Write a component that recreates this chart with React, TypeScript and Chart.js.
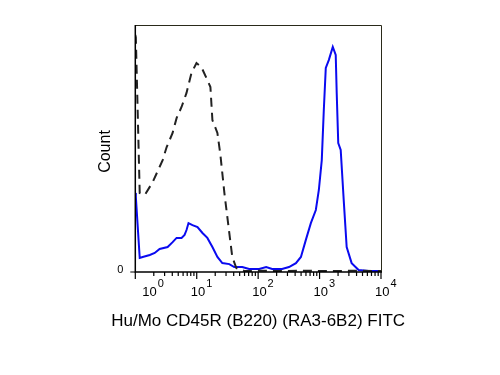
import React, { useEffect, useRef } from "react";
import { Chart, registerables } from "chart.js";

Chart.register(...registerables);

// Isotype control (dashed black): fluorescence (x) and relative count (y, 0-100)
const controlX = [1.0, 1.02, 1.18, 1.43, 1.92, 2.79, 3.24, 4.05, 4.7, 5.66, 6.82, 8.22, 9.91, 11.9, 14.9, 16.7, 18.0, 21.7, 24.3, 28.2, 33.9, 37.9, 44.1, 59.3, 104, 250, 600, 1500, 4000, 10000];
const controlY = [96, 95, 32.0, 31.2, 36.4, 45.3, 50.6, 56.3, 62.3, 66.8, 72.5, 80.6, 84.6, 83.0, 77.7, 74.9, 61.5, 56.3, 47.4, 32.0, 15.8, 6.1, 1.6, 0.4, 0.5, 0.4, 0.5, 0.4, 0.5, 0.4];

// Stained sample (solid blue)
const stainedX = [1.0, 1.02, 1.18, 1.32, 1.72, 2.07, 2.49, 3.36, 4.05, 4.7, 5.66, 6.34, 6.82, 7.35, 8.53, 10.3, 12.4, 14.9, 18.0, 21.7, 26.1, 33.9, 40.8, 55.1, 71.4, 104, 135, 169, 245, 318, 412, 497, 598, 721, 869, 973, 1086, 1172, 1262, 1413, 1641, 1832, 1901, 2014, 2208, 2472, 2761, 3327, 4325, 6281, 9120, 10000];
const stainedY = [32, 30.4, 5.7, 6.1, 6.9, 7.7, 9.3, 10.1, 12.1, 13.8, 13.8, 15.0, 17.0, 19.8, 19.0, 18.2, 15.8, 13.8, 10.1, 6.1, 3.6, 3.2, 2.0, 2.0, 1.2, 1.2, 2.0, 1.2, 1.2, 2.0, 3.6, 6.1, 13.0, 19.8, 25.1, 33.2, 45.3, 65.6, 82.6, 85.8, 91.1, 87.9, 72.5, 52.2, 49.4, 29.1, 10.1, 3.6, 0.8, 0.4, 0.4, 0.4];

const decadeValues = [1, 10, 100, 1000, 10000];
const decadeExponents = ["0", "1", "2", "3", "4"];
const minorMultipliers = [2, 3, 4, 5, 6, 7, 8, 9];
const yTickValues = [0];
const yTickLabels = ["0"];

const xTitle = "Hu/Mo CD45R (B220) (RA3-6B2) FITC";
const yTitle = "Count";

const FONT = "'Liberation Sans', Arial, sans-serif";

const axesPlugin = {
  id: "flowAxes",
  afterDraw(chart: any) {
    const { ctx, chartArea } = chart;
    const xs = chart.scales.x;
    const ys = chart.scales.y;
    const { left, right, top, bottom } = chartArea;
    ctx.save();

    // frame top & right
    ctx.strokeStyle = "#2a2a1a";
    ctx.lineWidth = 1;
    ctx.beginPath();
    ctx.moveTo(left, top + 0.5);
    ctx.lineTo(right + 0.5, top + 0.5);
    ctx.lineTo(right + 0.5, bottom);
    ctx.stroke();

    // axes left & bottom
    ctx.strokeStyle = "#000";
    ctx.lineWidth = 1.5;
    ctx.beginPath();
    ctx.moveTo(left, top);
    ctx.lineTo(left, bottom);
    ctx.lineTo(right + 1, bottom);
    ctx.stroke();

    // x ticks
    ctx.lineWidth = 1.2;
    ctx.beginPath();
    for (let d = 0; d < decadeValues.length; d++) {
      const px = xs.getPixelForValue(decadeValues[d]);
      ctx.moveTo(px, bottom);
      ctx.lineTo(px, bottom + 7);
      if (d < decadeValues.length - 1) {
        for (const m of minorMultipliers) {
          const mp = xs.getPixelForValue(decadeValues[d] * m);
          ctx.moveTo(mp, bottom);
          ctx.lineTo(mp, bottom + 4);
        }
      }
    }
    // y ticks
    for (const v of yTickValues) {
      const py = ys.getPixelForValue(v);
      ctx.moveTo(left - 5, py);
      ctx.lineTo(left, py);
    }
    ctx.stroke();

    // x tick labels 10^n
    ctx.fillStyle = "#000";
    ctx.textBaseline = "alphabetic";
    ctx.textAlign = "left";
    for (let d = 0; d < decadeValues.length; d++) {
      const px = xs.getPixelForValue(decadeValues[d]);
      const startX = Math.max(px - 6, left + 7);
      ctx.font = `13px ${FONT}`;
      ctx.fillText("10", startX, bottom + 24);
      const w = ctx.measureText("10").width;
      ctx.font = `11px ${FONT}`;
      ctx.fillText(decadeExponents[d], startX + w + 1, bottom + 15);
    }

    // y tick labels
    ctx.font = `11px ${FONT}`;
    ctx.textAlign = "right";
    ctx.textBaseline = "middle";
    for (let i = 0; i < yTickValues.length; i++) {
      const py = ys.getPixelForValue(yTickValues[i]);
      ctx.fillText(yTickLabels[i], left - 12, py - 2);
    }

    // x title
    ctx.font = `17px ${FONT}`;
    ctx.textAlign = "center";
    ctx.textBaseline = "alphabetic";
    ctx.fillText(xTitle, (left + right) / 2, bottom + 54);

    // y title
    ctx.save();
    ctx.translate(left - 25, (top + bottom) / 2 + 3);
    ctx.rotate(-Math.PI / 2);
    ctx.font = `16px ${FONT}`;
    ctx.textAlign = "center";
    ctx.textBaseline = "alphabetic";
    ctx.fillText(yTitle, 0, 0);
    ctx.restore();

    ctx.restore();
  },
};

export default function App() {
  const canvasRef = useRef<HTMLCanvasElement | null>(null);

  useEffect(() => {
    const canvas = canvasRef.current;
    if (!canvas) return;
    const chart = new Chart(canvas, {
      type: "line",
      data: {
        datasets: [
          {
            label: "Isotype control",
            data: controlX.map((x, i) => ({ x, y: controlY[i] })),
            borderColor: "#222222",
            borderWidth: 2,
            borderDash: [9, 6],
            pointRadius: 0,
            tension: 0,
            fill: false,
          },
          {
            label: "CD45R (B220)",
            data: stainedX.map((x, i) => ({ x, y: stainedY[i] })),
            borderColor: "#0a0af0",
            borderWidth: 2,
            pointRadius: 0,
            tension: 0,
            fill: false,
          },
        ],
      },
      options: {
        animation: false,
        responsive: false,
        devicePixelRatio: 1,
        layout: { padding: { left: 135.3, right: 119, top: 25, bottom: 103 } },
        plugins: { legend: { display: false }, tooltip: { enabled: false } },
        scales: {
          x: { type: "logarithmic", min: 1, max: 10000, display: false },
          y: { type: "linear", min: 0, max: 100, display: false },
        },
      },
      plugins: [axesPlugin],
    });
    return () => chart.destroy();
  }, []);

  return (
    <div style={{ position: "absolute", left: 0, top: 0, width: 500, height: 375, background: "#fff" }}>
      <canvas ref={canvasRef} width={500} height={375} style={{ display: "block" }} />
    </div>
  );
}
